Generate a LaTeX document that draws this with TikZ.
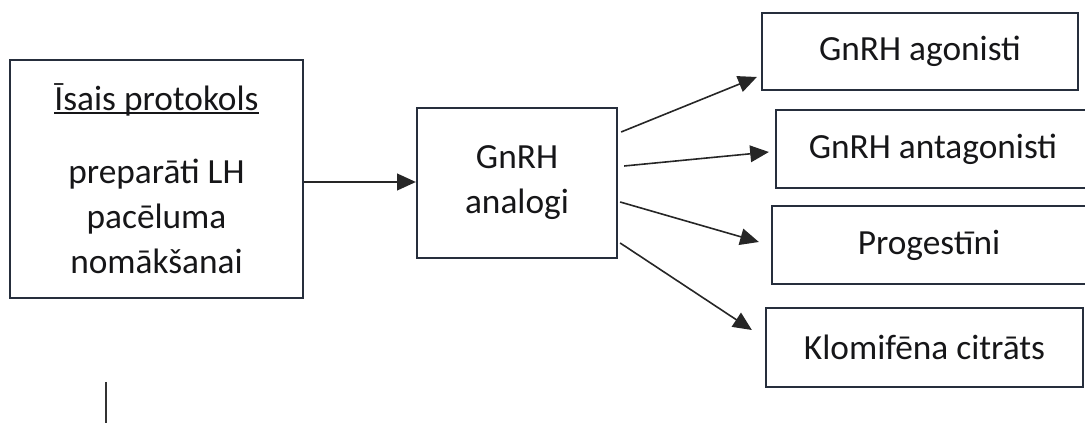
\documentclass[tikz,border=0pt]{standalone}
\usepackage{fontspec}
\setmainfont{Carlito}
\usetikzlibrary{arrows.meta,calc}

\definecolor{boxline}{RGB}{38,46,60}
\definecolor{textcol}{RGB}{22,22,24}
\tikzset{every picture/.style={line width=0.75pt}}
\tikzset{
  box/.style={draw=boxline, line width=1.7pt, inner sep=0pt, align=center, text=textcol, font=\fontsize{26.5}{33.75}\selectfont},
  link/.style={draw=black!85, line width=1.2pt, -{Triangle[length=14pt,width=12.5pt]}}
}
\newcommand{\ulbase}[1]{\setbox0\hbox{#1}\rlap{\rule[-2.2pt]{\wd0}{1.1pt}}\box0}

\begin{document}
\begin{tikzpicture}[x=0.75pt,y=0.75pt,yscale=-1,xscale=1]
    \useasboundingbox (0,0) rectangle (1085,423);

    % Boxes
    \node[box, minimum width=219.75pt, minimum height=178.5pt] (protokols) at (156.5,179) {\ulbase{Īsais protokols}\\[21pt] preparāti LH\\ pacēluma\\ nomākšanai};
    \node[box, minimum width=150pt, minimum height=112.5pt] (analogi) at (517,183) {GnRH\\ analogi};
    \node[box, minimum width=237pt, minimum height=57.75pt] (agonisti) at (920,51.5) {GnRH agonisti};
    \node[box, minimum width=235.5pt, minimum height=58.5pt] (antagonisti) at (933,149) {GnRH antagonisti};
    \node[box, minimum width=235.5pt, minimum height=58.5pt] (progestini) at (929,245) {Progestīni};
    \node[box, minimum width=237.75pt, minimum height=59.25pt] (klomifens) at (924.5,347.5) {Klomifēna citrāts};

    % Arrows
    \draw[link] ($(analogi.west -| protokols.east)+(0,-1)$) -- ($(analogi.west)+(0,-1)$);
    \draw[link] ($(analogi.east)+(3,-51)$) -- ($(agonisti.west)+(-4,25.5)$);
    \draw[link] ($(analogi.east)+(6,-17)$) -- ($(antagonisti.west)+(-6,3)$);
    \draw[link] ($(analogi.east)+(2,19)$) -- ($(progestini.west)+(-12,-3)$);
    \draw[link] ($(analogi.east)+(2,60)$) -- ($(klomifens.west)+(-13,-17.5)$);

    %Straight Lines
    \draw[draw=black!80, line width=1.1pt] (106,382) -- (106,423);

\end{tikzpicture}
\end{document}
